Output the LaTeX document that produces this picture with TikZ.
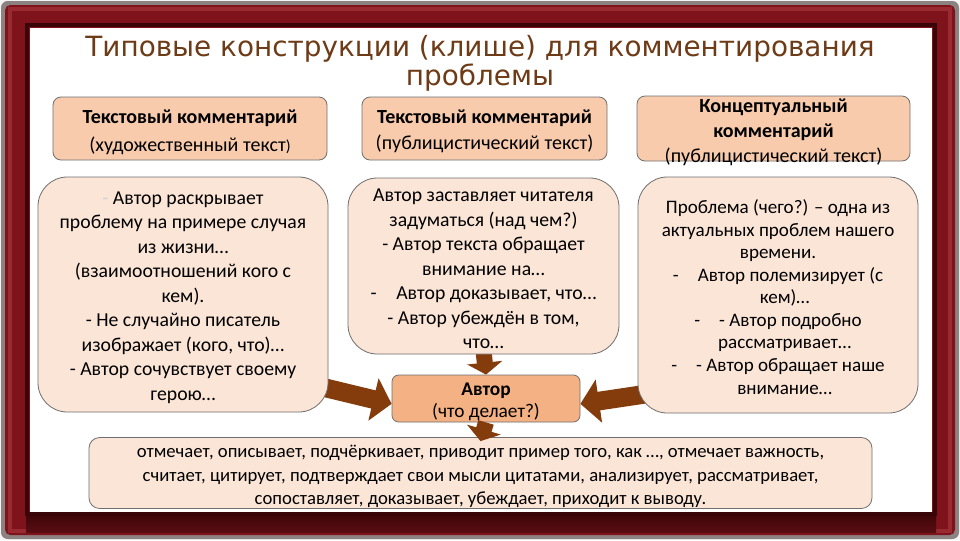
\documentclass[tikz,border=0pt]{standalone}
\usepackage{fontspec}
\setmainfont{Carlito}
\newfontfamily\titlefont{DejaVu Sans}
\usetikzlibrary{arrows.meta}
\definecolor{hdrfill}{HTML}{F8CBAD}
\definecolor{boxfill}{HTML}{FBE5D6}
\definecolor{autfill}{HTML}{F4B183}
\definecolor{arrowbrown}{HTML}{843C0C}
\definecolor{titlebrown}{HTML}{6E3B17}
\definecolor{framered}{HTML}{7E131B}
\definecolor{framelight}{HTML}{9A2A31}
\definecolor{framedark}{HTML}{3A0507}
\definecolor{frameedge}{HTML}{8C8282}
\definecolor{boxborder}{HTML}{6F6F6F}
\pgfdeclarelayer{framelayer}
\pgfdeclarelayer{arrowlayer}
\pgfsetlayers{framelayer,arrowlayer,main}
\tikzset{
  hdr/.style={draw=boxborder, line width=0.6pt, fill=hdrfill, rounded corners=6pt, inner sep=0pt},
  bigbox/.style={draw=boxborder, line width=0.6pt, fill=boxfill, rounded corners=22pt, inner sep=0pt},
  autbox/.style={draw=boxborder, line width=0.6pt, fill=autfill, rounded corners=5pt, inner sep=0pt},
  txt/.style={align=center, inner sep=0pt},
  downarrow/.style={draw=arrowbrown, line width=12pt, -{Triangle[width=26pt,length=9pt]}},
  sidearrow/.style={draw=arrowbrown, line width=14pt, -{Triangle[width=32pt,length=14pt]}},
  bodyfont/.style={font=\fontsize{14.8}{18.4}\selectfont},
}
\begin{document}
\begin{tikzpicture}[x=0.75pt,y=-0.75pt]
\useasboundingbox (0,0) rectangle (960,540);
% frame
\begin{pgfonlayer}{framelayer}
\fill[white!92!gray] (0,0) rectangle (960,540);
\fill[frameedge, rounded corners=5pt] (1,1) rectangle (959,539);
\fill[framered, rounded corners=4pt] (5,5) rectangle (955,535);
\draw[framelight, line width=2.5pt] (10,9) rectangle (950,531);
\shade[top color=framedark, bottom color=framered!70!black] (26,512) rectangle (936,532);
\draw[framedark, line width=2.5pt] (27,25) rectangle (935,514);
\fill[white] (30,28) rectangle (932,512);
\end{pgfonlayer}

% title
\node[txt, text=titlebrown, font=\titlefont\fontsize{20.9}{20.5}\selectfont]
  (title) at (480,63) {Типовые конструкции (клише) для комментирования\\проблемы};

% headers
\node[hdr, minimum width=205.5pt, minimum height=47.25pt] (h1) at (190,128.5) {};
\node[txt, font=\fontsize{15}{21}\selectfont] (h1t) at ([yshift=-3.2pt]h1.center)
  {\textbf{Текстовый комментарий}\\(художественный текст{\large)}};
\node[hdr, minimum width=183.75pt, minimum height=47.25pt] (h2) at (484.5,128.5) {};
\node[txt, font=\fontsize{15}{19.5}\selectfont] (h2t) at ([yshift=-2.3pt]h2.center)
  {\textbf{Текстовый комментарий}\\(публицистический текст)};
\node[hdr, minimum width=204.75pt, minimum height=48.75pt] (h3) at (773.5,128.5) {};
\node[txt, font=\fontsize{15}{18.7}\selectfont] (h3t) at ([yshift=-3pt]h3.center)
  {\textbf{Концептуальный}\\\textbf{комментарий}\\(публицистический текст)};

% big boxes
\node[bigbox, minimum width=217.5pt, minimum height=176.25pt] (lbox) at (183,294.5) {};
\node[txt, bodyfont] (lboxt) at ([yshift=-2.3pt]lbox.center)
  {{\color{gray!35}-} Автор раскрывает\\проблему на примере случая\\из жизни…\\(взаимоотношений кого с\\кем).\\- Не случайно писатель\\изображает (кого, что)…\\- Автор сочувствует своему\\герою…};
\node[bigbox, minimum width=203.25pt, minimum height=132pt] (mbox) at (483.5,266) {};
\node[txt, bodyfont] (mboxt) at ([yshift=-2.3pt]mbox.center)
  {Автор заставляет читателя\\задуматься (над чем?)\\- Автор текста обращает\\внимание на…\\-\quad Автор доказывает, что…\\- Автор убеждён в том,\\что…};
\node[bigbox, minimum width=210pt, minimum height=177pt] (rbox) at (778,295) {};
\node[txt, font=\fontsize{14.3}{16.9}\selectfont] (rboxt) at ([yshift=-1.5pt]rbox.center)
  {Проблема (чего?) – одна из\\актуальных проблем нашего\\времени.\\-\quad Автор полемизирует (с\\\hspace*{10pt}кем)…\\-\quad - Автор подробно\\\hspace*{10pt}рассматривает…\\-\quad - Автор обращает наше\\\hspace*{10pt}внимание…};

% author box
\node[autbox, minimum width=141pt, minimum height=35.25pt] (aut) at (486,398.5) {};
\node[txt, font=\fontsize{14.5}{16.5}\selectfont] (autt) at ([yshift=-2.3pt]aut.center)
  {\textbf{Автор}\\(что делает?)};

% bottom box
\node[bigbox, rounded corners=8pt, minimum width=587.25pt, minimum height=53.25pt] (bbox) at (480.5,473) {};
\node[txt, font=\fontsize{14}{17.6}\selectfont] (bboxt) at ([yshift=-2.6pt]bbox.center)
  {отмечает, описывает, подчёркивает, приводит пример того, как …, отмечает важность,\\считает, цитирует, подтверждает свои мысли цитатами, анализирует, рассматривает,\\сопоставляет, доказывает, убеждает, приходит к выводу.};

% arrows
\begin{pgfonlayer}{arrowlayer}
\draw[downarrow] ([yshift=3pt]mbox.south) -- (aut.north);
\draw[sidearrow] ([xshift=-10pt]lbox.-32) -- ([yshift=-4pt]aut.west);
\draw[sidearrow] ([xshift=10pt]rbox.215) -- ([yshift=-4pt]aut.east);
\end{pgfonlayer}
\draw[downarrow] (aut.south) -- ([yshift=-3pt]bbox.north);
\end{tikzpicture}
\end{document}
